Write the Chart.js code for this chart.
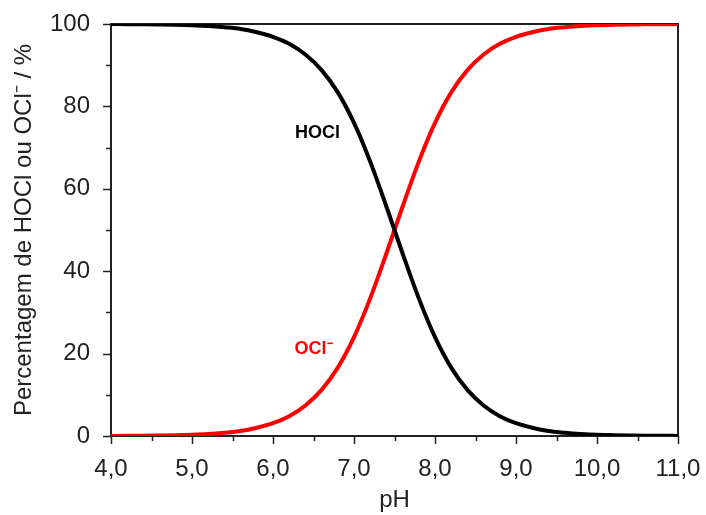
<!DOCTYPE html>
<html><head><meta charset="utf-8">
<script src="https://cdn.jsdelivr.net/npm/chart.js@4/dist/chart.umd.min.js"></script>
<style>html,body{margin:0;padding:0;background:#fff}#w{width:706px;height:515px}</style>
</head><body><div id="w"><canvas id="c" width="706" height="515"></canvas></div>
<script>
const pH = [4.0,4.2,4.4,4.6,4.8,5.0,5.2,5.4,5.6,5.8,6.0,6.2,6.4,6.6,6.8,7.0,7.2,7.4,7.6,7.8,8.0,8.2,8.4,8.6,8.8,9.0,9.2,9.4,9.6,9.8,10.0,10.2,10.4,10.6,10.8,11.0];
const hocl = [100,99.95,99.92,99.87,99.8,99.68,99.5,99.2,98.8,98.0,96.9,95.2,92.6,88.8,83.4,76.0,66.6,55.7,44.3,33.4,24.0,16.6,11.2,7.4,4.8,3.1,2.0,1.2,0.8,0.5,0.3,0.2,0.13,0.08,0.05,0.03];
const ocl = [0,0.05,0.08,0.13,0.2,0.32,0.5,0.8,1.2,2.0,3.1,4.8,7.4,11.2,16.6,24.0,33.4,44.3,55.7,66.6,76.0,83.4,88.8,92.6,95.2,96.9,98.0,98.8,99.2,99.5,99.7,99.8,99.87,99.92,99.95,99.97];
const xTicks = [4,5,6,7,8,9,10,11];
const yTicks = [0,20,40,60,80,100];
const labels = [{text:'HOCl', x:6.55, y:73.5, color:'#000'}, {text:'OCl\u207B', x:6.5, y:21.0, color:'#ff0000'}];
const FONT = '"Liberation Sans", Arial, sans-serif';

function zeroPad(s){ s.paddingTop=0; s.paddingBottom=0; s.paddingLeft=0; s.paddingRight=0; }

const deco = {
  id:'deco',
  beforeDatasetsDraw(chart){
    const {ctx, chartArea:a, scales:{x,y}} = chart;
    ctx.save();
    ctx.strokeStyle = '#222'; ctx.lineWidth = 2;
    ctx.strokeRect(a.left, a.top, a.right-a.left, a.bottom-a.top);
    ctx.lineWidth = 1.5; ctx.strokeStyle='#222';
    for (let v=4; v<=11.001; v+=0.5){
      const px = Math.round(x.getPixelForValue(v))+0.5;
      const len = (Math.abs(v-Math.round(v))<1e-6)?8:5;
      ctx.beginPath(); ctx.moveTo(px,a.bottom); ctx.lineTo(px,a.bottom+len); ctx.stroke();
    }
    for (let v=0; v<=100.001; v+=10){
      const py = Math.round(y.getPixelForValue(v))+0.5;
      const len = (v%20===0)?8:5;
      ctx.beginPath(); ctx.moveTo(a.left,py); ctx.lineTo(a.left-len,py); ctx.stroke();
    }
    ctx.restore();
  },
  afterDatasetsDraw(chart){
    const {ctx, scales:{x,y}} = chart;
    ctx.save();
    ctx.font = 'bold 18px ' + FONT;
    ctx.textAlign='center'; ctx.textBaseline='middle';
    labels.forEach(l=>{ ctx.fillStyle=l.color; ctx.fillText(l.text, x.getPixelForValue(l.x), y.getPixelForValue(l.y)); });
    ctx.restore();
  }
};

new Chart(document.getElementById('c'), {
  type:'line',
  data:{ datasets:[
    {label:'HOCl', data:pH.map((v,i)=>({x:v,y:hocl[i]})), borderColor:'#000', borderWidth:4, pointRadius:0, cubicInterpolationMode:'monotone', fill:false},
    {label:'OCl-', data:pH.map((v,i)=>({x:v,y:ocl[i]})), borderColor:'#ff0000', borderWidth:4, pointRadius:0, cubicInterpolationMode:'monotone', fill:false}
  ]},
  options:{
    responsive:false, animation:false, events:[],
    layout:{padding:{left:0, right:28, top:24, bottom:0}},
    plugins:{legend:{display:false}, tooltip:{enabled:false}},
    scales:{
      x:{type:'linear', min:4, max:11,
        afterBuildTicks(s){ s.ticks = xTicks.map(v=>({value:v})); },
        afterFit(s){ s.height = 79; zeroPad(s); },
        grid:{display:false}, border:{display:false},
        ticks:{padding:11, color:'#222', font:{family:FONT, size:24}, callback:v=>v.toFixed(1).replace('.',','), maxRotation:0, autoSkip:false},
        title:{display:true, text:'pH', color:'#222', font:{family:FONT, size:24}, padding:{top:0,bottom:0}}
      },
      y:{type:'linear', min:0, max:100,
        afterBuildTicks(s){ s.ticks = yTicks.map(v=>({value:v})); },
        afterFit(s){ s.width = 111; zeroPad(s); },
        grid:{display:false}, border:{display:false},
        ticks:{padding:13, color:'#222', font:{family:FONT, size:24}},
        title:{display:true, text:'Percentagem de HOCl ou OCl\u207B / %', color:'#222', font:{family:FONT, size:24}, padding:{top:10,bottom:0}}
      }
    }
  },
  plugins:[deco]
});
</script></body></html>
